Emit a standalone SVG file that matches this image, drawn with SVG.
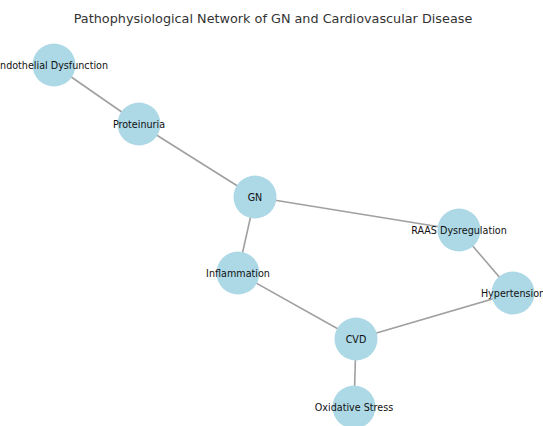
<svg xmlns="http://www.w3.org/2000/svg" width="543" height="426" viewBox="0 0 543 426">
<style>
.edge{stroke:#a0a0a0;stroke-width:1.6;fill:none}
.node circle{fill:#ADD8E6}
.node text{font-family:"DejaVu Sans",sans-serif;font-size:9.6px;fill:#111;text-anchor:middle;dominant-baseline:central}
.title{font-family:"DejaVu Sans",sans-serif;font-size:12.8px;fill:#333;text-anchor:middle}
</style>
<rect width="543" height="426" fill="#fff"/>
<text class="title" x="273" y="23">Pathophysiological Network of GN and Cardiovascular Disease</text>
<g id="edges">
<line class="edge" x1="54" y1="65" x2="139" y2="124"/>
<line class="edge" x1="139" y1="124" x2="255" y2="197"/>
<line class="edge" x1="255" y1="197" x2="459" y2="230"/>
<line class="edge" x1="255" y1="197" x2="238" y2="273"/>
<line class="edge" x1="459" y1="230" x2="513" y2="293"/>
<line class="edge" x1="238" y1="273" x2="356" y2="339"/>
<line class="edge" x1="513" y1="293" x2="356" y2="339"/>
<line class="edge" x1="356" y1="339" x2="354" y2="407"/>
</g>
<g id="endothelial" class="node"><circle cx="54" cy="65" r="21.5"/><text x="51" y="65">Endothelial Dysfunction</text></g>
<g id="proteinuria" class="node"><circle cx="139" cy="124" r="21.5"/><text x="139" y="124">Proteinuria</text></g>
<g id="gn" class="node"><circle cx="255" cy="197" r="21.5"/><text x="255" y="197">GN</text></g>
<g id="raas" class="node"><circle cx="459" cy="230" r="21.5"/><text x="459" y="230">RAAS Dysregulation</text></g>
<g id="inflammation" class="node"><circle cx="238" cy="273" r="21.5"/><text x="238" y="273">Inflammation</text></g>
<g id="hypertension" class="node"><circle cx="513" cy="293" r="21.5"/><text x="513" y="293">Hypertension</text></g>
<g id="cvd" class="node"><circle cx="356" cy="339" r="21.5"/><text x="356" y="339">CVD</text></g>
<g id="oxidative" class="node"><circle cx="354" cy="407" r="21.5"/><text x="354" y="407">Oxidative Stress</text></g>
</svg>
